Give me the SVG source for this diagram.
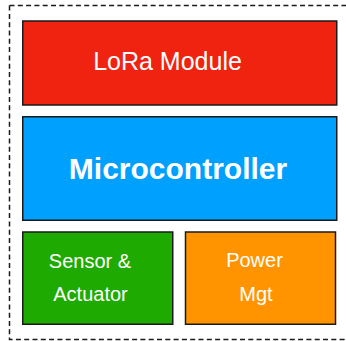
<svg xmlns="http://www.w3.org/2000/svg" width="346" height="341" viewBox="0 0 346 341">
  <style>
    .box { stroke: #1a1a1a; stroke-width: 1.5; }
    .label { fill: #ffffff; font-family: "Liberation Sans", Arial, sans-serif; text-anchor: middle; }
    .frame { fill: none; stroke: #1a1a1a; stroke-width: 1.5; stroke-dasharray: 5 3.3; }
  </style>
  <rect width="346" height="341" fill="#ffffff"/>
  <!-- outer dashed boundary -->
  <rect class="frame" x="9.5" y="5.5" width="345" height="334"/>
  <g id="lora">
    <rect class="box" x="22.75" y="21" width="314" height="84" fill="#f02311"/>
    <text class="label" x="167.5" y="69.5" font-size="25">LoRa Module</text>
  </g>
  <g id="mcu">
    <rect class="box" x="22.75" y="116.75" width="314" height="103.5" fill="#00a0fe"/>
    <text class="label" x="178" y="179" font-size="30" font-weight="bold">Microcontroller</text>
  </g>
  <g id="sensor">
    <rect class="box" x="22.75" y="232" width="150" height="92.25" fill="#1faa00"/>
    <text class="label" x="90" y="267.5" font-size="20">Sensor &amp;</text>
    <text class="label" x="90.5" y="301" font-size="20">Actuator</text>
  </g>
  <g id="power">
    <rect class="box" x="185.5" y="232" width="150" height="92.25" fill="#ff9400"/>
    <text class="label" x="254.5" y="267" font-size="20">Power</text>
    <text class="label" x="256" y="301" font-size="20">Mgt</text>
  </g>
  <g id="connectors"/>
</svg>
